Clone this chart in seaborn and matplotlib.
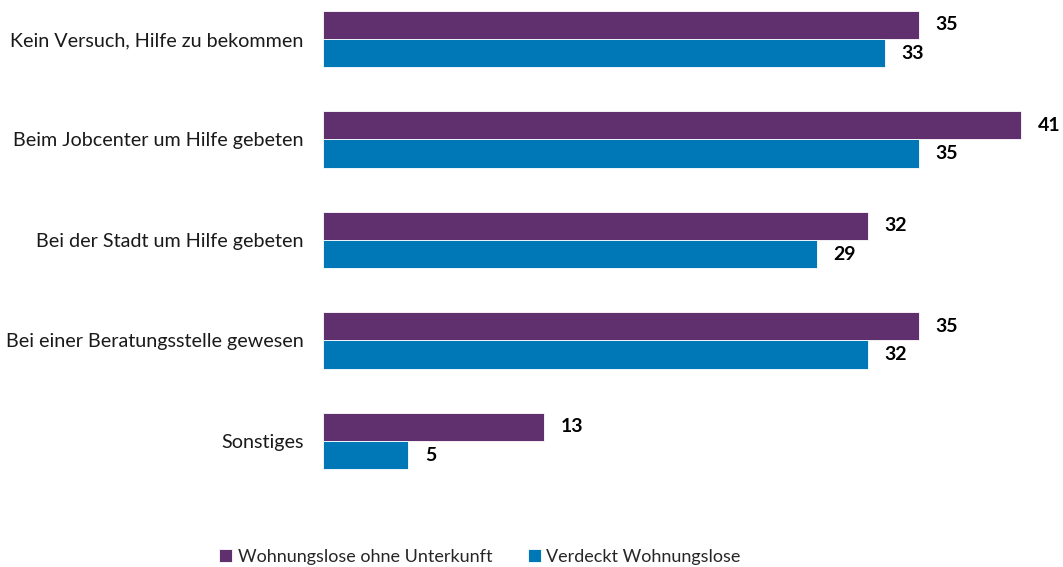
import matplotlib
matplotlib.use("Agg")
import matplotlib.pyplot as plt
import pandas as pd
import seaborn as sns

categories = [
    "Kein Versuch, Hilfe zu bekommen",
    "Beim Jobcenter um Hilfe gebeten",
    "Bei der Stadt um Hilfe gebeten",
    "Bei einer Beratungsstelle gewesen",
    "Sonstiges",
]
ohne_unterkunft = [35, 41, 32, 35, 13]
verdeckt = [33, 35, 29, 32, 5]
series_names = ["Wohnungslose ohne Unterkunft", "Verdeckt Wohnungslose"]
colors = ["#5F2F6E", "#0077B6"]

df = pd.DataFrame({
    "kategorie": categories * 2,
    "gruppe": [series_names[0]] * len(categories) + [series_names[1]] * len(categories),
    "wert": ohne_unterkunft + verdeckt,
})

sns.set_theme(style="white")
plt.rcParams["font.family"] = ["Lato", "DejaVu Sans"]

fig = plt.figure(figsize=(10.63, 5.67), dpi=100)
# Achse so platzieren, dass 1 Einheit ~17 px und eine Kategorie ~100 px hoch ist
ax = fig.add_axes([323 / 1063, 1 - 491.25 / 567, 740 / 1063, 491.25 / 567])

sns.barplot(data=df, y="kategorie", x="wert", hue="gruppe", order=categories,
            hue_order=series_names, palette=colors, orient="h", width=0.56,
            edgecolor="white", linewidth=0.6, saturation=1, ax=ax)

for cont in ax.containers:
    ax.bar_label(cont, padding=12, fontsize=14, fontweight="bold", color="black")

ax.set_xlim(0, 740 / 17.03)
ax.set_ylim(4.5, -0.388)
ax.set_xlabel("")
ax.set_ylabel("")
ax.set_xticks([])
ax.tick_params(axis="y", length=0, pad=14, labelsize=14.2, labelcolor="#1a1a1a")
sns.despine(ax=ax, left=True, bottom=True, top=True, right=True)

ax.legend(loc="center", bbox_to_anchor=(480 / 1063, 1 - 557 / 567),
          bbox_transform=fig.transFigure, ncol=2, frameon=False, fontsize=13,
          handlelength=0.7, handleheight=0.7, handletextpad=0.3, columnspacing=2.0)

fig.savefig("out.png", dpi=100)
plt.close()
